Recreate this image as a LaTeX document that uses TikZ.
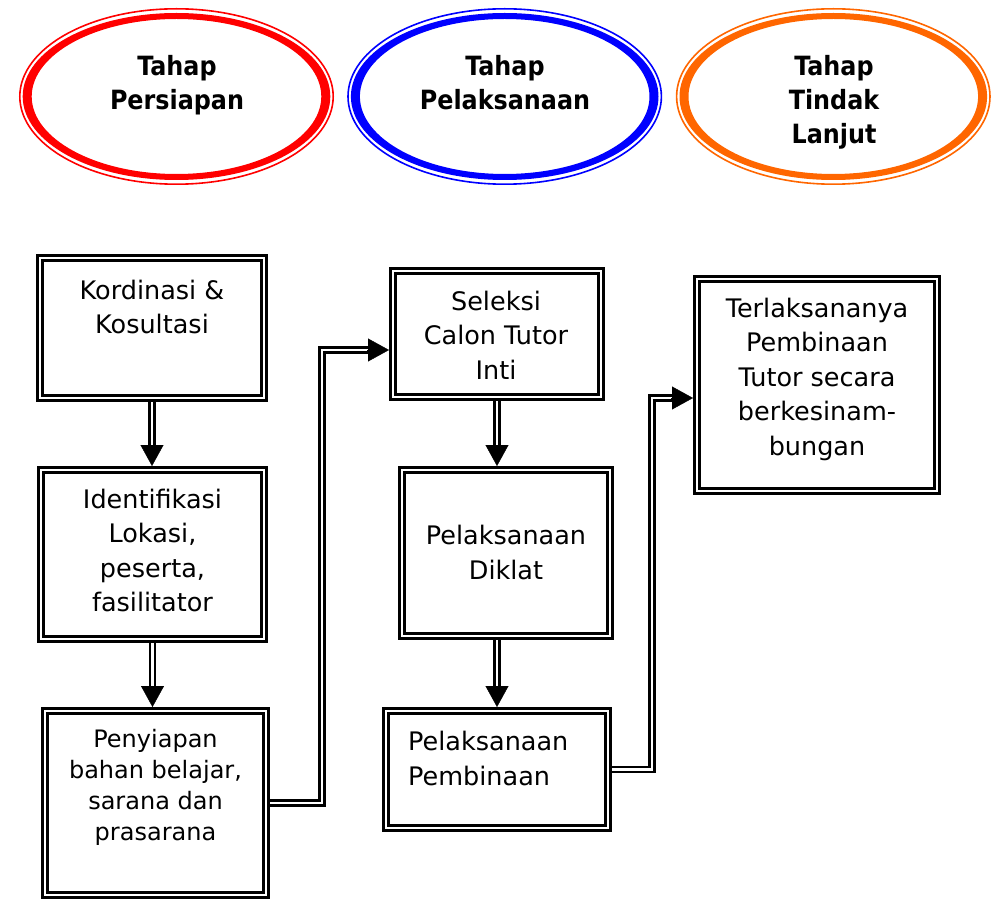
\documentclass[tikz,border=0pt]{standalone}
\usepackage{fontspec}
\setmainfont{DejaVu Sans}
\newfontfamily\ellfont{DejaVu Sans Condensed Bold}
\usetikzlibrary{shapes.geometric,arrows.meta,calc}
\definecolor{ered}{RGB}{255,0,0}
\definecolor{eblue}{RGB}{0,0,255}
\definecolor{eorange}{RGB}{255,102,0}
\tikzset{
 box/.style={draw, double, line width=2.6pt, double distance=2.4pt, inner sep=0pt, outer sep=3.8pt},
 conn/.style={draw, double, line width=2.7pt, double distance=2.1pt},
 tipst/.style={-{Triangle[length=21pt,width=23pt]}, line width=0.4pt},
 btext/.style={align=center, inner sep=0pt, anchor=base, font=\fontsize{25.5}{34.5}\selectfont},
 etext/.style={align=center, inner sep=0pt, anchor=base, font={\ellfont\fontsize{26.5}{34}\selectfont}},
 ellin/.style={ellipse, inner sep=0pt, minimum width=315pt, minimum height=177pt},
 ellout/.style={line width=1.6pt},
 ellring/.style={even odd rule},
}
\begin{document}
\begin{tikzpicture}[x=1pt,y=-1pt]
\useasboundingbox (0,0) rectangle (998,901);
% ellipses: thin outer line + thick inner ring (thicker at the sides)
\node[ellin] (e1) at (176.5,96.5) {};
\draw[ellout, ered] (e1.center) ellipse [x radius=156.7pt, y radius=87.7pt];
\fill[ellring, ered] (e1.center) ellipse [x radius=153.8pt, y radius=83.5pt] (e1.center) ellipse [x radius=144.8pt, y radius=77.5pt];
\node[etext] (et1) at (177,110) {Tahap\\Persiapan};
\node[ellin] (e2) at (504.7,96.5) {};
\draw[ellout, eblue] (e2.center) ellipse [x radius=156.7pt, y radius=87.7pt];
\fill[ellring, eblue] (e2.center) ellipse [x radius=153.8pt, y radius=83.5pt] (e2.center) ellipse [x radius=144.8pt, y radius=77.5pt];
\node[etext] (et2) at (505,110) {Tahap\\Pelaksanaan};
\node[ellin] (e3) at (833.3,96.5) {};
\draw[ellout, eorange] (e3.center) ellipse [x radius=156.7pt, y radius=87.7pt];
\fill[ellring, eorange] (e3.center) ellipse [x radius=153.8pt, y radius=83.5pt] (e3.center) ellipse [x radius=144.8pt, y radius=77.5pt];
\node[etext] (et3) at (834,143.5) {Tahap\\Tindak\\Lanjut};
% boxes
\node[box, minimum width=224.4pt, minimum height=140.4pt] (b1) at (152,328) {};
\node[box, minimum width=223.4pt, minimum height=169.4pt] (b2) at (152.5,554.5) {};
\node[box, minimum width=221.4pt, minimum height=184.4pt] (b3) at (155.5,803) {};
\node[box, minimum width=208.4pt, minimum height=126.4pt] (b4) at (497,334) {};
\node[box, minimum width=208.4pt, minimum height=166.4pt] (b5) at (506,553) {};
\node[box, minimum width=222.4pt, minimum height=117.4pt] (b6) at (497,769.5) {};
\node[box, minimum width=240.4pt, minimum height=212.4pt] (b7) at (817,385) {};
% texts (placed by the baseline of their last line)
\node[btext] (t1) at (152,333.5) {Kordinasi \&\\Kosultasi};
\node[btext] (t2) at (152.5,611.5) {Identifikasi\\Lokasi,\\peserta,\\fasilitator};
\node[btext, font=\fontsize{24}{31}\selectfont] (t3) at (155.5,840) {Penyiapan\\bahan belajar,\\sarana dan\\prasarana};
\node[btext] (t4) at (496,379) {Seleksi\\Calon Tutor\\Inti};
\node[btext, font=\fontsize{25.5}{35.5}\selectfont] (t5) at (506,579.5) {Pelaksanaan\\Diklat};
\node[btext, align=left, anchor=base west, font=\fontsize{25.5}{35}\selectfont] (t6) at (408,785) {Pelaksanaan\\Pembinaan};
\node[btext] (t7) at (817,455) {Terlaksananya\\Pembinaan\\Tutor secara\\berkesinam-\\bungan};
% vertical arrows
\coordinate (a1) at (b1.south |- b2.north);
\draw[conn, shorten >=20pt] (b1.south) -- (a1);
\draw[tipst] ($(a1)+(0,-21)$) -- (a1);
\coordinate (a2) at (b2.south |- b3.north);
\draw[conn, shorten >=20pt] (b2.south) -- (a2);
\draw[tipst] ($(a2)+(0,-21)$) -- (a2);
\coordinate (a3) at (b4.south |- b5.north);
\draw[conn, shorten >=20pt] (b4.south) -- (a3);
\draw[tipst] ($(a3)+(0,-21)$) -- (a3);
\coordinate (a4s) at (b4.south |- b5.south);
\coordinate (a4) at (b4.south |- b6.north);
\draw[conn, shorten >=20pt] (a4s) -- (a4);
\draw[tipst] ($(a4)+(0,-21)$) -- (a4);
% elbow connectors
\coordinate (k1) at (322,350);
\coordinate (k1e) at (k1 -| b4.west);
\draw[conn, shorten >=21pt] (b3.east) -| (k1) -- (k1e);
\draw[tipst] ($(k1e)+(-22,0)$) -- (k1e);
\coordinate (k2) at (652,398);
\coordinate (k2e) at (k2 -| b7.west);
\draw[conn, shorten >=21pt] (b6.east) -| (k2) -- (k2e);
\draw[tipst] ($(k2e)+(-22,0)$) -- (k2e);
\end{tikzpicture}
\end{document}
